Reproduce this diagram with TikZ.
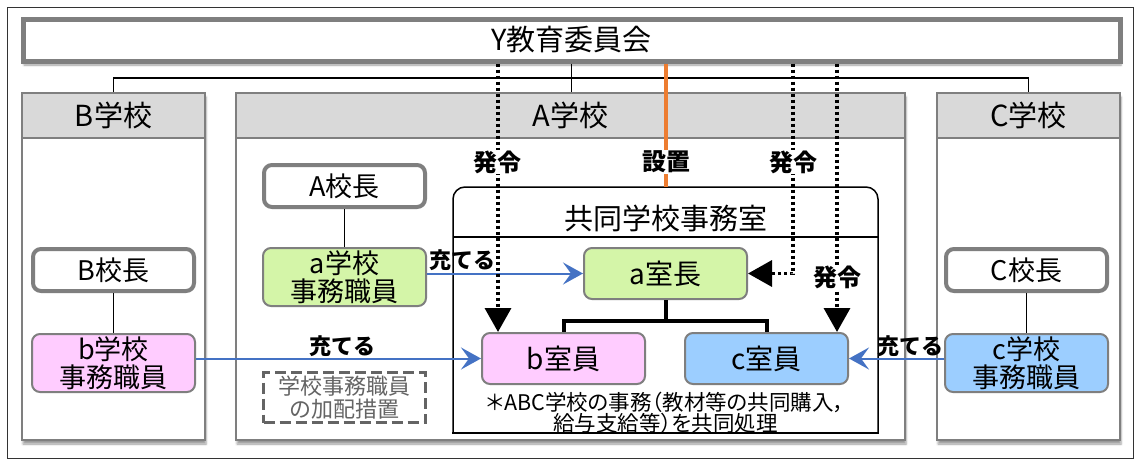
\documentclass[tikz,border=0pt]{standalone}
\usepackage{fontspec}
\setmainfont{Noto Sans CJK JP}
\newfontfamily\notefont{Noto Sans CJK JP}[RawFeature=+palt]
\usetikzlibrary{arrows.meta,shadows.blur}

\definecolor{boxgray}{RGB}{127,127,127}
\definecolor{headgray}{RGB}{217,217,217}
\definecolor{agreen}{RGB}{212,245,168}
\definecolor{bpink}{RGB}{255,204,255}
\definecolor{cblue}{RGB}{156,206,255}
\definecolor{setorange}{RGB}{237,125,49}
\definecolor{arrowblue}{RGB}{68,114,196}
\definecolor{extragray}{RGB}{100,100,100}

\tikzset{
  board/.style={draw=boxgray, line width=5pt, fill=white, inner sep=0pt,
    blur shadow={shadow xshift=1pt, shadow yshift=-4pt, shadow opacity=40},
    font=\fontsize{29}{31}\selectfont},
  school/.style={draw=boxgray, line width=2pt, fill=white, inner sep=0pt,
    blur shadow={shadow xshift=1pt, shadow yshift=-4pt, shadow opacity=40}},
  schoolhead/.style={draw=boxgray, line width=2pt, fill=headgray, inner sep=0pt,
    minimum height=45pt, font=\fontsize{29}{31}\selectfont},
  principal/.style={draw=boxgray, line width=4pt, fill=white, rounded corners=8pt,
    inner sep=0pt, minimum width=161pt, minimum height=42pt,
    font=\fontsize{27}{29}\selectfont},
  clerk/.style={draw=boxgray, line width=2pt, rounded corners=8pt, inner sep=0pt,
    minimum width=163pt, minimum height=58pt, align=center,
    font=\fontsize{27}{28}\selectfont},
  member/.style={draw=boxgray, line width=2pt, rounded corners=8pt, inner sep=0pt,
    minimum width=163pt, minimum height=51pt, font=\fontsize{28}{30}\selectfont},
  extra/.style={draw=extragray, line width=3pt, dash pattern=on 11pt off 5pt,
    inner sep=0pt, minimum width=162pt, minimum height=50pt, align=center,
    text=extragray, font=\fontsize{22}{23}\selectfont},
  link/.style={line width=1.5pt},
  tree/.style={line width=4pt},
  officeline/.style={line width=1.5pt},
  assign/.style={draw=arrowblue, line width=2pt,
    -{Stealth[length=20pt, width=22pt, inset=8pt]}},
  assignlabel/.style={inner sep=0pt, font=\fontsize{22}{24}\selectfont\bfseries},
  order/.style={line width=3.5pt, dash pattern=on 3pt off 3pt,
    -{Triangle[width=26pt, length=24pt]}},
  orderlabel/.style={fill=white, inner sep=1pt, font=\fontsize{24}{26}\selectfont\bfseries},
  setup/.style={draw=setorange, line width=4pt}
}

\begin{document}
\begin{tikzpicture}[x=1pt,y=-1pt]
\useasboundingbox (0,0) rectangle (1140,466);
\draw[line width=1.5pt, black!80] (7.5,7.5) rectangle (1133.5,458.5);

% board and schools
\node[board, minimum width=1097pt, minimum height=42pt] (ybox) at (571.5,40) {Y教育委員会};

\node[school, minimum width=183pt, minimum height=347pt, anchor=north] (bschool) at (113.5,92) {};
\node[schoolhead, minimum width=183pt, anchor=north] (bhead) at (113.5,92) {B学校};
\node[school, minimum width=669pt, minimum height=347pt, anchor=north] (aschool) at (570.5,92) {};
\node[schoolhead, minimum width=669pt, anchor=north] (ahead) at (570.5,92) {A学校};
\node[school, minimum width=183pt, minimum height=347pt, anchor=north] (cschool) at (1028.5,92) {};
\node[schoolhead, minimum width=183pt, anchor=north] (chead) at (1028.5,92) {C学校};

\draw[link] (bhead.north) -- (bhead.north |- 0,78) -- (chead.north |- 0,78) -- (chead.north);
\draw[link] (ybox.south) -- (ybox.south |- ahead.north);

% principals and clerks
\node[principal] (bprin) at (113.5,270) {B校長};
\node[clerk, fill=bpink] (bclerk) at (113.5,363) {b学校\\事務職員};
\draw[link] (bprin) -- (bclerk);

\node[principal] (aprin) at (344.5,186) {A校長};
\node[clerk, fill=agreen] (aclerk) at (344.5,277) {a学校\\事務職員};
\draw[link] (aprin) -- (aclerk);

\node[principal] (cprin) at (1026.5,270) {C校長};
\node[clerk, fill=cblue] (cclerk) at (1026.5,363) {c学校\\事務職員};
\draw[link] (cprin) -- (cclerk);

\node[extra] (extra) at (344.5,397.5) {学校事務職員\\の加配措置};

% joint office
\node[inner sep=0pt, outer sep=0pt, minimum width=425pt, minimum height=246pt,
  anchor=north west] (office) at (453,187) {};
\draw[officeline, rounded corners=12pt] (office.south west) -- (office.north west)
  -- (office.north east) -- (office.south east);
\draw[officeline, line cap=rect] (office.south west) -- (office.south east);
\node[font=\fontsize{29}{31}\selectfont] (officetitle) at (665.5,218) {共同学校事務室};
\draw[officeline] (office.west |- 0,237) -- (office.east |- 0,237);

\node[member, fill=agreen] (achief) at (665.5,273.5) {a室長};
\node[member, fill=bpink] (bmember) at (563.5,358.5) {b室員};
\node[member, fill=cblue] (cmember) at (766.5,358.5) {c室員};
\draw[tree] (achief.south) -- ++(0,21) coordinate (fork);
\draw[tree] (bmember.north) |- (fork) -| (cmember.north);

\node[align=center, font=\notefont\fontsize{21.5}{21.5}\selectfont] (note) at (665.5,413)
  {＊ABC学校の事務（教材等の共同購入，\\給与支給等）を共同処理};

% assignments
\draw[assign] (aclerk.east |- achief.west) -- (achief.west);
\node[assignlabel] (alabel) at (462,260) {充てる};
\draw[assign] (bclerk.east |- bmember.west) -- (bmember.west);
\node[assignlabel] (blabel) at (342,346) {充てる};
\draw[assign] (cclerk.west |- cmember.east) -- (cmember.east);
\node[assignlabel] (clabel) at (910,346) {充てる};

% orders from the board
\draw[setup] (ybox.south -| office.north) -- (office.north);
\draw[order] (ybox.south -| 498,0) -- (bmember.north -| 498,0);
\draw[order] (ybox.south -| 793,0) |- (achief.east);
\draw[order] (ybox.south -| 837,0) -- (cmember.north -| 837,0);
\node[orderlabel] (order1) at (497,162) {発令};
\node[orderlabel] (setlabel) at (666,162) {設置};
\node[orderlabel] (order2) at (793,162) {発令};
\node[orderlabel] (order3) at (837,277) {発令};
\end{tikzpicture}
\end{document}
